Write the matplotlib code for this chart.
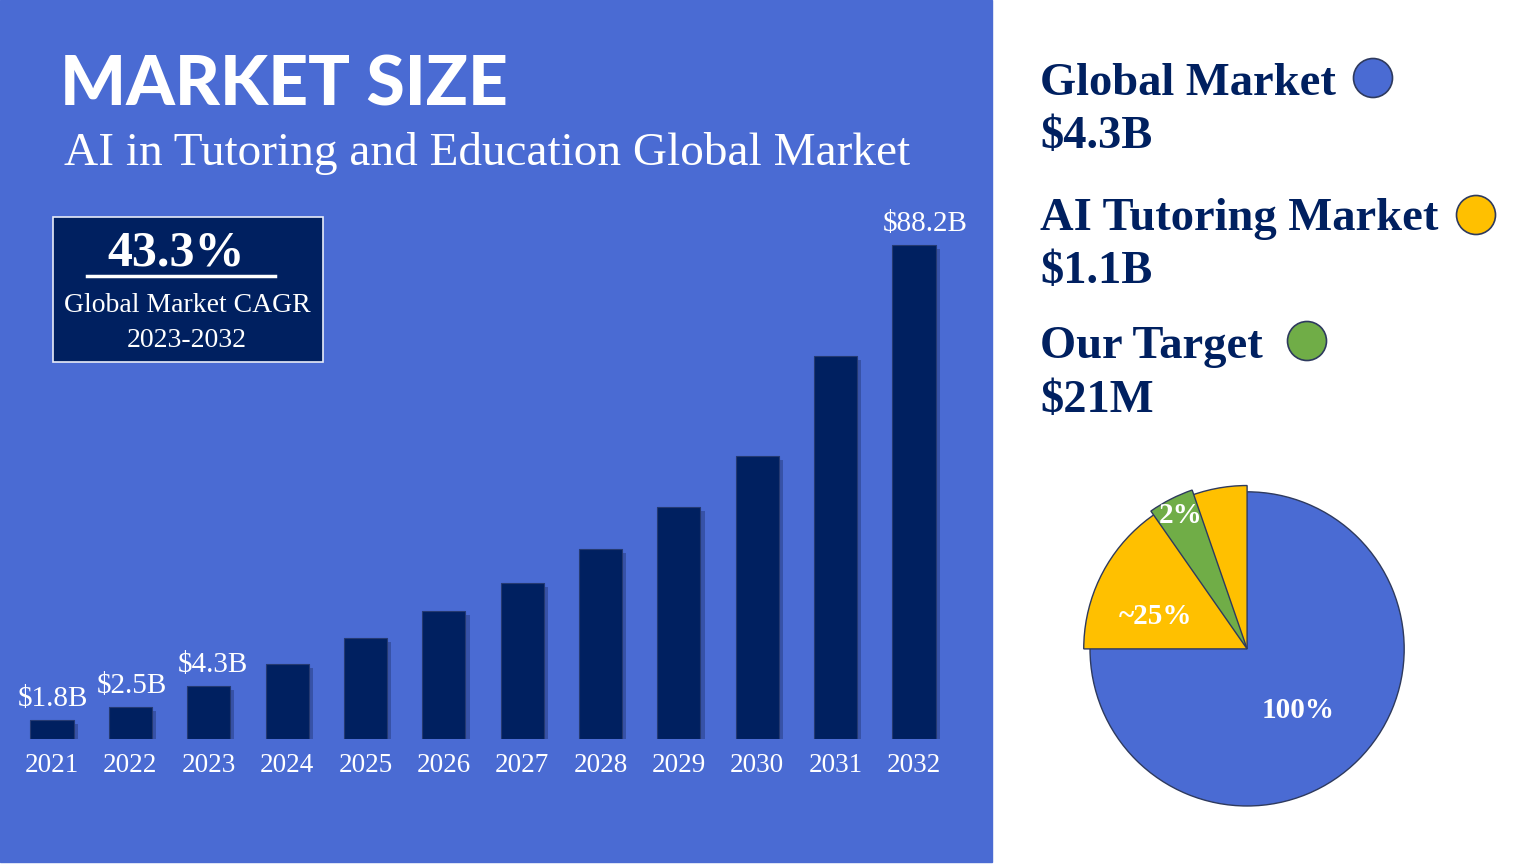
import matplotlib
matplotlib.use("Agg")
import matplotlib.pyplot as plt
import matplotlib.patches as patches
import matplotlib.patheffects as pe
import numpy as np

# ---------------- data ----------------
years = ['2021', '2022', '2023', '2024', '2025', '2026',
         '2027', '2028', '2029', '2030', '2031', '2032']
# bar heights in $B, as drawn
market_size = [3.4, 5.7, 9.5, 13.4, 18.0, 22.9, 27.9, 33.9, 41.4, 50.5, 68.4, 88.2]
bar_labels = {0: '$1.8B', 1: '$2.5B', 2: '$4.3B', 11: '$88.2B'}

cagr = '43.3%'
cagr_text = ['Global Market CAGR', '2023-2032']

legend_names = ['Global Market', 'AI Tutoring Market', 'Our Target']
legend_values = ['$4.3B', '$1.1B', '$21M']

# pie: share of circle (percent) and label for each layer
pie_global = 100
pie_tutoring = 25
pie_target_start = 5.3     # % of the circle past 12 o'clock
pie_target_span = 4.4
pie_labels = ['100%', '~25%', '2%']

BLUE = '#4a6bd3'
NAVY = '#002060'
YELLOW = '#ffc000'
GREEN = '#70ad47'
EDGE = '#2e3a5e'
W, H = 1536, 864

SERIF = ['Liberation Serif', 'DejaVu Serif']

fig = plt.figure(figsize=(W / 100, H / 100), dpi=100)
fig.patch.set_facecolor('white')

# overlay in pixel coordinates for background, texts and legend dots
bg = fig.add_axes([0, 0, 1, 1])
bg.set_xlim(0, W)
bg.set_ylim(H, 0)
bg.axis('off')
bg.add_patch(patches.Rectangle((0, 0), 992, 862, color=BLUE, zorder=0))

bg.text(60, 105, 'MARKET SIZE', color='white', fontsize=50,
        family=['Lato', 'DejaVu Sans'], fontweight='black', va='baseline')
bg.text(64, 165, 'AI in Tutoring and Education Global Market', color='white',
        fontsize=34, family=SERIF, va='baseline')

# CAGR box
bg.add_patch(patches.Rectangle((53, 217), 270, 145, facecolor=NAVY,
                               edgecolor='#e8ecf8', lw=1.2, zorder=2))
bg.text(176, 265, cagr, color='white', fontsize=36, fontweight='bold',
        family=SERIF, ha='center', va='baseline', zorder=3)
bg.plot([87, 275], [276, 276], color='white', lw=2.5, zorder=3)
bg.text(187, 312, cagr_text[0], color='white', fontsize=20, family=SERIF,
        ha='center', va='baseline', zorder=3)
bg.text(187, 347, cagr_text[1], color='white', fontsize=20, family=SERIF,
        ha='center', va='baseline', zorder=3)

# right side legend
name_base = [95, 230, 358]
value_base = [148, 283, 412]
dot_colors = [BLUE, YELLOW, GREEN]
for name, val, yb, yv in zip(legend_names, legend_values, name_base, value_base):
    bg.text(1040, yb, name, color=NAVY, fontsize=33.5, fontweight='bold',
            family=SERIF, va='baseline')
    bg.text(1040, yv, val, color=NAVY, fontsize=33.5, fontweight='bold',
            family=SERIF, va='baseline')
dots = [(1373, 78), (1476, 215), (1307, 341)]
for (cx, cy), col in zip(dots, dot_colors):
    bg.add_patch(patches.Circle((cx, cy), 19.5, facecolor=col, edgecolor=EDGE, lw=1.2))

# ---------------- bar chart ----------------
ax = fig.add_axes([12.8 / W, 125 / H, 940.4 / W, 560 / H])
ax.patch.set_alpha(0)
x = np.arange(len(years))
bars = ax.bar(x, market_size, width=0.55, color=NAVY, edgecolor='#253a72', lw=0.8)
for b in bars:
    b.set_path_effects([pe.SimplePatchShadow(offset=(3, -3), shadow_rgbFace='#1c2d66', alpha=0.4),
                        pe.Normal()])
ax.set_xlim(-0.5, len(years) - 0.5)
ax.set_ylim(0, 100)
ax.set_xticks(x)
ax.set_xticklabels(years, color='white', fontsize=19.5, family=SERIF)
ax.tick_params(axis='x', length=0, pad=10)
ax.set_yticks([])
for s in ax.spines.values():
    s.set_visible(False)
label_shift = {0: 1, 1: 1, 2: 3, 11: 8}
for i, lab in bar_labels.items():
    ax.annotate(lab, xy=(x[i], market_size[i]), xytext=(label_shift[i], 10),
                textcoords='offset points', ha='center', va='baseline',
                color='white', fontsize=21, family=SERIF)

# ---------------- pie ----------------
pax = fig.add_axes([1058.6 / W, 26.6 / H, 377 / W, 377 / H])
pax.set_xlim(-1.2, 1.2)
pax.set_ylim(-1.2, 1.2)
pax.set_aspect('equal')
pax.axis('off')

pax.add_patch(patches.Wedge((0, 0), 1.0, 0, 360 * pie_global / 100,
                            facecolor=BLUE, edgecolor=EDGE, lw=1))
pax.add_patch(patches.Wedge((0, 0), 1.04, 90, 90 + 360 * pie_tutoring / 100,
                            facecolor=YELLOW, edgecolor=EDGE, lw=1))
g1 = 90 + 360 * pie_target_start / 100
pax.add_patch(patches.Wedge((0, 0), 1.07, g1, g1 + 360 * pie_target_span / 100,
                            facecolor=GREEN, edgecolor=EDGE, lw=1))

lab_pos = [(0.325, -0.389), (-0.586, 0.204), (-0.42, 0.85)]
for lab, (lx, ly) in zip(pie_labels, lab_pos):
    pax.text(lx, ly, lab, color='white', fontsize=21, fontweight='bold',
             family=SERIF, ha='center', va='center')

fig.savefig('out.png', dpi=100)
